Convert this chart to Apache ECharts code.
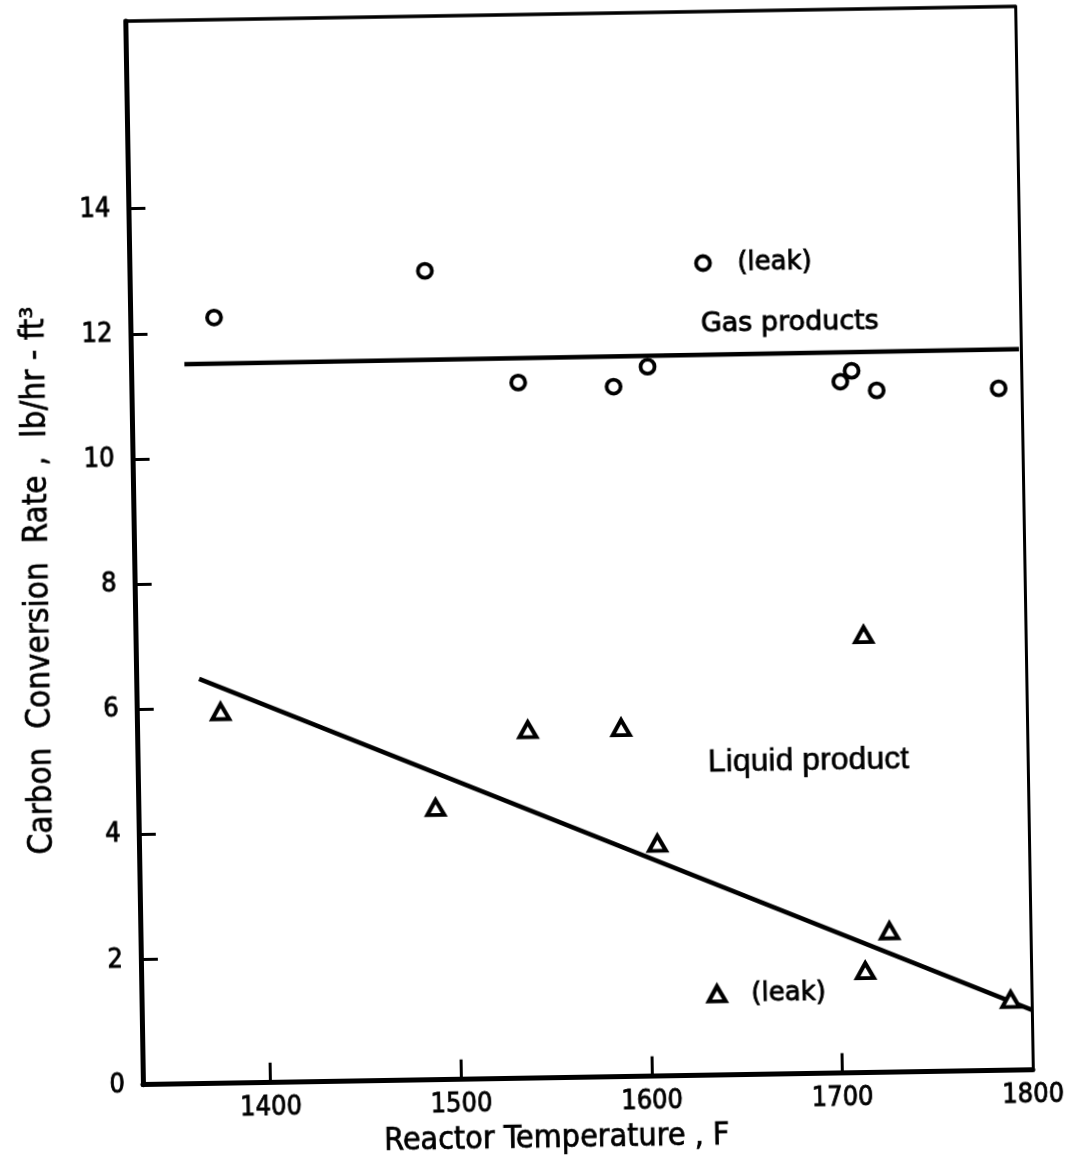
<!DOCTYPE html>
<html>
<head>
<meta charset="utf-8">
<script src="https://cdn.jsdelivr.net/npm/echarts@6/dist/echarts.min.js"></script>
<style>
  html, body { margin: 0; padding: 0; background: #fff; overflow: hidden; }
  #chart { width: 1078px; height: 1167px; transform: rotate(-0.95deg); transform-origin: 143px 1088px; }
</style>
</head>
<body>
<div id="chart"></div>
<script>
// ---- data ----
const xTicks = [1400, 1500, 1600, 1700, 1800];
const yTicks = [0, 2, 4, 6, 8, 10, 12, 14];

// Gas products (circles)
const gasTemp = [1377, 1488, 1536, 1586, 1604, 1634, 1705, 1711, 1724, 1788];
const gasRate = [12.24, 12.93, 11.12, 11.03, 11.34, 12.98, 11.05, 11.22, 10.90, 10.90];

// Liquid product (triangles)
const liqTemp = [1377, 1489, 1538, 1587, 1605, 1715, 1726, 1713, 1635, 1789];
const liqRate = [5.94, 4.35, 5.57, 5.58, 3.72, 7.00, 2.26, 1.63, 1.30, 1.13];

// Fitted lines
const gasFitTemp = [1361, 1799];
const gasFitRate = [11.50, 11.52];
const liqFitTemp = [1366, 1800];
const liqFitRate = [6.47, 0.96];

// Annotations
const annoText = ['(leak)', 'Gas products', 'Liquid product', '(leak)'];
const annoTemp = [1652, 1679, 1685, 1653];
const annoRate = [12.97, 12.0, 5.0, 1.29];

const zip = (a, b) => a.map((v, i) => [v, b[i]]);

const FONT = "'DejaVu Sans Condensed', 'DejaVu Sans', sans-serif";
const INK = '#000';

const annoStyles = [
  { align: 'left', fontFamily: "'DejaVu Sans', sans-serif", fontSize: 26, border: 0.9 },
  { align: 'center', fontFamily: "'DejaVu Sans', sans-serif", fontSize: 27, border: 0.9 },
  { align: 'center', fontFamily: "'Liberation Sans', Arial, sans-serif", fontSize: 32, border: 0.6 },
  { align: 'left', fontFamily: "'DejaVu Sans', sans-serif", fontSize: 26, border: 0.9 }
];

const chart = echarts.init(document.getElementById('chart'), null, { renderer: 'canvas' });

const option = {
  backgroundColor: '#fff',
  animation: false,
  grid: { left: 143, right: 45, top: 21, bottom: 79, containLabel: false },
  xAxis: [
    {
      type: 'value', min: 1333, max: 1800, position: 'bottom',
      axisLine: { show: true, onZero: false, lineStyle: { color: INK, width: 5 } },
      axisTick: { show: true, inside: true, length: 20, lineStyle: { color: INK, width: 3 }, customValues: xTicks },
      axisLabel: { show: true, customValues: xTicks, formatter: v => String(v), margin: 12, color: INK, fontSize: 27, fontFamily: FONT, textBorderColor: INK, textBorderWidth: 0.8 },
      splitLine: { show: false },
      name: 'Reactor Temperature , F',
      nameLocation: 'middle', nameGap: 45,
      nameTextStyle: { color: INK, fontSize: 32, fontFamily: FONT, padding: [0, 64, 0, 0], textBorderColor: INK, textBorderWidth: 0.7 }
    },
    {
      type: 'value', min: 1333, max: 1800, position: 'top',
      axisLine: { show: true, onZero: false, lineStyle: { color: INK, width: 3.5 } },
      axisTick: { show: false }, axisLabel: { show: false }, splitLine: { show: false }
    }
  ],
  yAxis: [
    {
      type: 'value', min: 0, max: 17, position: 'left',
      axisLine: { show: true, onZero: false, lineStyle: { color: INK, width: 5 } },
      axisTick: { show: true, inside: true, length: 17, lineStyle: { color: INK, width: 3 }, customValues: yTicks.filter(v => v > 0) },
      axisLabel: { show: true, customValues: yTicks, formatter: v => String(v), margin: 18, color: INK, fontSize: 27, fontFamily: FONT, textBorderColor: INK, textBorderWidth: 0.8 },
      splitLine: { show: false },
      name: 'Carbon  Conversion  Rate ,  lb/hr - ft³',
      nameLocation: 'middle', nameGap: 79, nameRotate: 90,
      nameTextStyle: { color: INK, fontSize: 33, fontFamily: FONT, padding: [0, 52, 0, 0], textBorderColor: INK, textBorderWidth: 0.6 }
    },
    {
      type: 'value', min: 0, max: 17, position: 'right',
      axisLine: { show: true, onZero: false, lineStyle: { color: INK, width: 3 } },
      axisTick: { show: false }, axisLabel: { show: false }, splitLine: { show: false }
    }
  ],
  series: [
    {
      name: 'Gas fit', type: 'line', data: zip(gasFitTemp, gasFitRate),
      symbol: 'none', lineStyle: { color: INK, width: 4.5 }, silent: true, z: 2
    },
    {
      name: 'Liquid fit', type: 'line', data: zip(liqFitTemp, liqFitRate),
      symbol: 'none', lineStyle: { color: INK, width: 4.5 }, silent: true, z: 2
    },
    {
      name: 'Gas products', type: 'scatter', data: zip(gasTemp, gasRate),
      symbol: 'circle', symbolSize: 14,
      itemStyle: { color: '#fff', borderColor: INK, borderWidth: 3.8, opacity: 1 }, z: 3
    },
    {
      name: 'Liquid product', type: 'scatter', data: zip(liqTemp, liqRate),
      symbol: 'triangle', symbolSize: [17, 15],
      itemStyle: { color: '#fff', borderColor: INK, borderWidth: 4, opacity: 1 }, z: 3
    },
    {
      name: 'Annotations', type: 'scatter', silent: true, z: 4,
      symbolSize: 0, itemStyle: { color: INK, opacity: 1 },
      data: annoText.map((t, i) => ({
        value: [annoTemp[i], annoRate[i]],
        label: {
          show: true, formatter: t, position: [0, 0],
          align: annoStyles[i].align, verticalAlign: 'middle',
          color: INK, opacity: 1, fontSize: annoStyles[i].fontSize, fontFamily: annoStyles[i].fontFamily,
          textBorderColor: INK, textBorderWidth: annoStyles[i].border
        }
      }))
    }
  ]
};

chart.setOption(option);
</script>
</body>
</html>
